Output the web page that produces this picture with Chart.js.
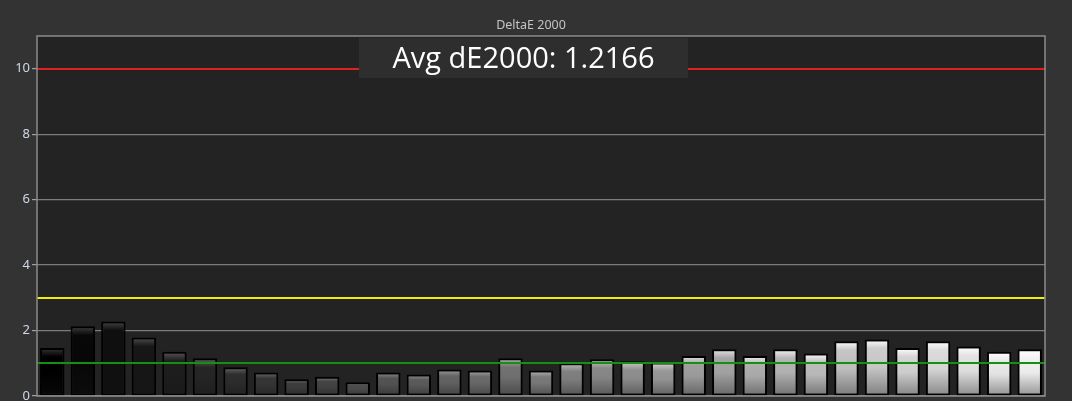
<!DOCTYPE html>
<html>
<head>
<meta charset="utf-8">
<script src="https://cdn.jsdelivr.net/npm/chart.js@4.4.1/dist/chart.umd.min.js"></script>
<style>
  html,body{margin:0;padding:0;background:#333333;}
  #wrap{width:1072px;height:401px;}
</style>
</head>
<body>
<div id="wrap"><canvas id="c" width="1072" height="401"></canvas></div>
<script>
// ---- data ----
const categories = Array.from({length:33},(_,i)=>String(i));
const deltaE = [1.47,2.13,2.28,1.79,1.35,1.15,0.88,0.72,0.51,0.59,0.42,
                0.72,0.66,0.81,0.78,1.15,0.78,1.00,1.12,1.06,1.02,1.22,
                1.43,1.22,1.43,1.30,1.67,1.73,1.47,1.67,1.51,1.35,1.43];
const yTicks = [0,2,4,6,8,10];
const thresholds = [10,3,1];
const thresholdColors = ['#e02020','#f0f000','#159015'];
const titleText = 'DeltaE 2000';
const avgText = 'Avg dE2000: 1.2166';

function grayFor(i){ return Math.round(i*255/(categories.length-1)); }
function rgb(v){ v=Math.max(0,Math.min(255,Math.round(v))); return `rgb(${v},${v},${v})`; }

const bgPlugin = {
  id:'bgPlugin',
  beforeDraw(chart){
    const {ctx, chartArea:a} = chart;
    ctx.save();
    ctx.fillStyle='#333333';
    ctx.fillRect(0,0,chart.width,chart.height);
    ctx.fillStyle='#232323';
    ctx.fillRect(a.left,a.top,a.right-a.left,a.bottom-a.top);
    // title
    ctx.fillStyle='#c4c4c4';
    ctx.font='12.5px "Noto Sans", "Open Sans", sans-serif';
    ctx.textAlign='center';
    ctx.textBaseline='middle';
    ctx.fillText(titleText,(a.left+a.right)/2-10,25);
    ctx.restore();
  },
  afterDatasetsDraw(chart){
    const {ctx, chartArea:a, scales:{y}} = chart;
    ctx.save();
    thresholds.forEach((t,k)=>{
      const py = Math.round(y.getPixelForValue(t));
      ctx.strokeStyle=thresholdColors[k];
      ctx.lineWidth=2;
      ctx.beginPath(); ctx.moveTo(a.left,py); ctx.lineTo(a.right,py); ctx.stroke();
    });
    // plot border
    ctx.strokeStyle='#8c8c8c';
    ctx.lineWidth=1.5;
    ctx.strokeRect(a.left,a.top,a.right-a.left,a.bottom-a.top);
    // avg box
    const bx=359, bw=329, by=a.top+2, bh=40;
    ctx.fillStyle='#2e2e2e';
    ctx.fillRect(bx,by,bw,bh);
    ctx.fillStyle='#ffffff';
    ctx.font='29px "Open Sans", "Noto Sans", sans-serif';
    ctx.textAlign='center';
    ctx.textBaseline='middle';
    ctx.fillText(avgText,bx+bw/2,by+bh/2+2);
    ctx.restore();
  }
};

const chart = new Chart(document.getElementById('c'),{
  type:'bar',
  data:{
    labels:categories,
    datasets:[{
      data:deltaE,
      categoryPercentage:0.8,
      barPercentage:1.0,
      borderColor:'#000000',
      borderWidth:2,
      borderSkipped:false,
      backgroundColor(context){
        const chart=context.chart;
        const a=chart.chartArea;
        if(!a) return '#888';
        const i=context.dataIndex;
        const v=deltaE[i];
        const ys=chart.scales.y;
        const top=ys.getPixelForValue(v), bot=ys.getPixelForValue(0);
        const g=grayFor(i);
        const grad=chart.ctx.createLinearGradient(0,top,0,bot);
        grad.addColorStop(0,rgb(g+55));
        grad.addColorStop(Math.min(0.25,9/Math.max(1,bot-top)),rgb(g*0.95));
        grad.addColorStop(0.5,rgb(g*0.92));
        grad.addColorStop(1,rgb(g*0.55+8));
        return grad;
      }
    }]
  },
  options:{
    responsive:false,
    animation:false,
    devicePixelRatio:1,
    layout:{padding:{top:36,right:27,bottom:5,left:0}},
    plugins:{legend:{display:false},title:{display:false},tooltip:{enabled:false}},
    scales:{
      x:{display:false,offset:true},
      y:{
        min:0,max:11,
        afterFit(s){ s.width=37; s.paddingBottom=0; s.paddingTop=0; },
        afterBuildTicks(s){ s.ticks=yTicks.map(v=>({value:v})); },
        ticks:{color:'#d0d8e8',font:{size:13,family:'"Noto Sans", "Open Sans", sans-serif'},padding:2},
        grid:{color:'#7c7c7c',lineWidth:1.2,tickLength:5,tickColor:'#a0a0a0'},
        border:{display:false}
      }
    }
  },
  plugins:[bgPlugin]
});
</script>
</body>
</html>
